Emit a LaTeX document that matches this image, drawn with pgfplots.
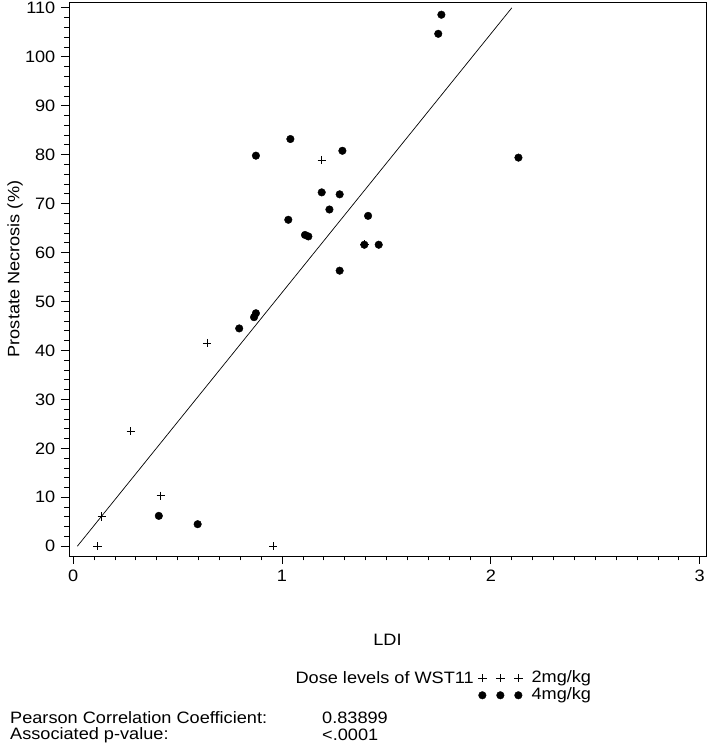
\documentclass[border=0pt]{standalone}
\usepackage{pgfplots}
\pgfplotsset{compat=1.18}
\usepackage{fontspec}
\setmainfont{Liberation Sans}[FakeStretch=1.1]
\newcommand{\ff}{\fontsize{16.5bp}{19bp}\selectfont}
\begin{document}
\ff
\begin{tikzpicture}
\path[use as bounding box] (0,0) rectangle (707bp,746bp);
\begin{axis}[
  at={(69bp,190bp)}, anchor=south west,
  scale only axis, width=637bp, height=554bp,
  xmin=-0.02, xmax=3.03, ymin=-2, ymax=111.2,
  xtick={0,1,2,3}, ytick={0,10,...,110},
  minor x tick num=9, minor y tick num=4,
  tick align=outside, xtick pos=bottom, ytick pos=left,
  major tick length=8bp, minor tick length=4.5bp,
  every tick/.style={black, line width=0.8bp},
  axis line style={line width=0.8bp},
  /pgf/number format/assume math mode=true,
  ticklabel style={font=\ff},
  label style={font=\ff},
  xlabel={LDI}, ylabel={Prostate Necrosis (\%)},
  xlabel style={at={(axis description cs:0.5,-0.1516)}, anchor=center},
  ylabel style={at={(axis description cs:-0.0848,0.518)}, anchor=center},
  legend image code/.code={\draw[#1] plot coordinates {(0bp,0bp) (18bp,0bp) (36bp,0bp)};},
  legend style={at={(axis description cs:0.642,-0.205)}, anchor=north west,
    draw=none, fill=none, font=\ff, row sep=0bp, column sep=8bp, inner sep=0pt,
    nodes={inner sep=1bp, text height=11.5bp, text depth=3.5bp}},
  legend cell align=left,
]
\addplot[only marks, mark=+, mark size=4.2bp, black, mark options={line width=0.8bp}] coordinates {
(0.116,0) (0.137,6.1) (0.276,23.5) (0.42,10.3) (0.641,41.5) (0.958,0) (1.19,78.9) (1.394,61.7)
};
\addlegendentry{2mg/kg}
\addplot[only marks, mark=*, mark size=3.8bp, black] coordinates {
(0.41,6.2) (0.596,4.5) (0.795,44.5) (0.866,46.8) (0.875,47.6) (0.875,79.8)
(1.04,83.2) (1.03,66.7) (1.11,63.6) (1.126,63.3) (1.19,72.3) (1.227,68.8)
(1.276,71.9) (1.289,80.8) (1.412,67.5) (1.394,61.6) (1.463,61.6) (1.276,56.3)
(1.748,104.7) (1.763,108.6) (2.132,79.4)
};
\addlegendentry{4mg/kg}
\addplot[black, line width=0.7bp, forget plot] coordinates {(0.02,0) (2.10,110)};
\end{axis}
\node[anchor=east, inner sep=0pt] at (474bp,68bp) {Dose levels of WST11};
\node[anchor=west, inner sep=0pt] at (10bp,28.5bp) {Pearson Correlation Coefficient:};
\node[anchor=west, inner sep=0pt] at (10bp,11bp) {Associated p-value:};
\node[anchor=west, inner sep=0pt] at (322bp,28.5bp) {0.83899};
\node[anchor=west, inner sep=0pt] at (322bp,11bp) {<.0001};
\end{tikzpicture}
\end{document}
